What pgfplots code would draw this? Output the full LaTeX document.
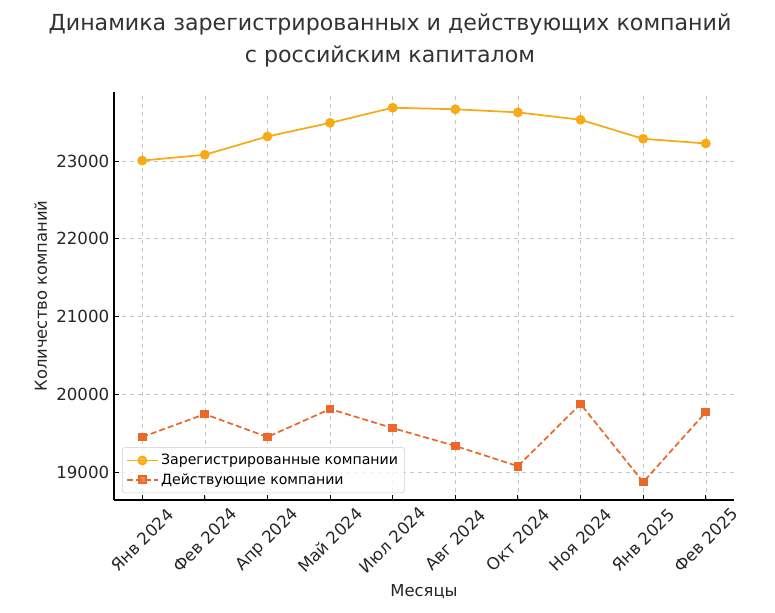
\documentclass[border=0pt]{standalone}
\usepackage{fontspec}
\setmainfont{DejaVu Sans}
\usepackage{pgfplots}
\pgfplotsset{compat=1.18}
\definecolor{regc}{RGB}{248,170,20}
\definecolor{actc}{RGB}{234,104,42}
\begin{document}
\begin{tikzpicture}[x=1pt,y=1pt]
\useasboundingbox (-85.5,-84) rectangle (495.75,375);
\begin{axis}[
  at={(0,0)}, anchor=south west,
  scale only axis, width=465pt, height=306pt,
  xmin=-0.45, xmax=9.45, ymin=18640, ymax=23887,
  axis lines*=left,
  axis line style={black, line width=0.9pt},
  xtick={0,...,9},
  xticklabels={Янв 2024,Фев 2024,Апр 2024,Май 2024,Июл 2024,Авг 2024,Окт 2024,Ноя 2024,Янв 2025,Фев 2025},
  ytick={19000,20000,21000,22000,23000},
  scaled y ticks=false,
  yticklabel style={/pgf/number format/fixed, /pgf/number format/1000 sep={}},
  /pgf/number format/assume math mode=true,
  tick label style={font=\fontsize{12.5}{14}\selectfont, text=black!85},
  xticklabel style={anchor=center, yshift=-30pt, rotate=45},
  tick align=inside, major tick length=4pt,
  tick style={black, line width=0.7pt},
  grid=major,
  major grid style={gray!45, dashed, line width=0.4pt},
  xlabel={Месяцы}, ylabel={Количество компаний},
  label style={font=\fontsize{12.3}{14}\selectfont, text=black!85},
  xlabel style={at={(axis description cs:0.5,0)}, anchor=center, yshift=-69pt},
  ylabel style={at={(axis description cs:0,0.5)}, anchor=center, xshift=0pt, yshift=55pt},
  legend style={at={(0.013,0.017)}, anchor=south west, font=\fontsize{10.6}{12}\selectfont,
    draw=gray!40, rounded corners=2pt, fill=white, fill opacity=0.8, text opacity=1,
    row sep=1pt, inner sep=3pt},
  legend image code/.code={\draw[mark repeat=2,mark phase=2] plot coordinates {(0cm,0cm) (0.4cm,0cm) (0.8cm,0cm)};},
  legend cell align=left,
  clip=false,
]
\addplot[regc, line width=1.3pt, mark=*, mark size=3pt, mark options={solid, fill=regc, draw=regc}]
coordinates {(0,23005) (1,23080) (2,23315) (3,23490) (4,23685) (5,23665) (6,23625) (7,23530) (8,23285) (9,23225)};
\addlegendentry{Зарегистрированные компании}
\addplot[actc, line width=1.3pt, dash pattern=on 4.5pt off 2.3pt, mark=square*, mark size=2.6pt, mark options={solid, fill=actc, draw=actc}]
coordinates {(0,19450) (1,19745) (2,19450) (3,19810) (4,19565) (5,19335) (6,19075) (7,19875) (8,18870) (9,19770)};
\addlegendentry{Действующие компании}
\end{axis}
\node[font=\fontsize{16.6}{20}\selectfont, text=black!80] at (207,357) {Динамика зарегистрированных и действующих компаний};
\node[font=\fontsize{16.6}{20}\selectfont, text=black!80] at (207,332.5) {с российским капиталом};
\end{tikzpicture}
\end{document}
